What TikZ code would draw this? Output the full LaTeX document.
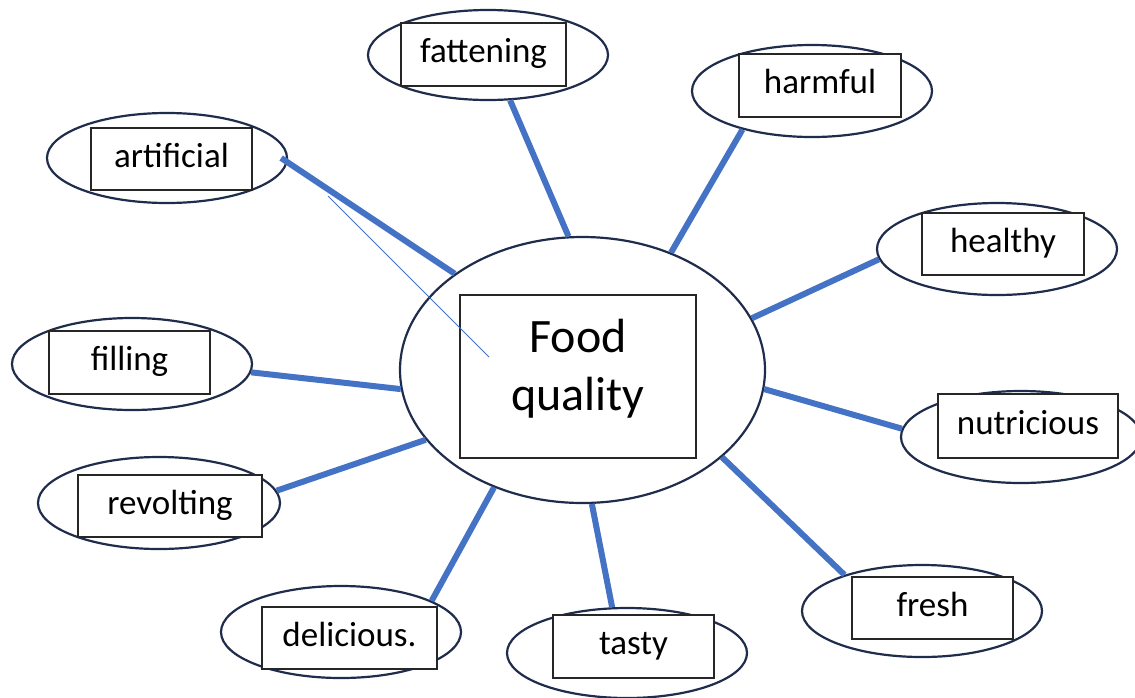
\documentclass[tikz,border=0pt]{standalone}
\usepackage{fontspec}
\setmainfont{Carlito}
\usetikzlibrary{shapes.geometric}
\definecolor{navy}{HTML}{1F2C4C}
\definecolor{linkblue}{HTML}{4472C4}
\definecolor{boxline}{HTML}{262626}
\tikzset{
  oval/.style={ellipse, draw=navy, line width=2.2pt, fill=white, inner sep=0pt},
  wordbox/.style={draw=boxline, line width=1.3pt, fill=white, inner sep=0pt,
    font=\fontsize{35}{42}\selectfont, text height=26pt, text depth=10pt},
  centerbox/.style={draw=boxline, line width=1.3pt, fill=white, inner sep=0pt, align=center,
    font=\fontsize{48}{58}\selectfont},
  link/.style={draw=linkblue, line width=6pt},
  thinlink/.style={draw=linkblue, line width=1pt}
}
\begin{document}
\begin{tikzpicture}[x=1pt,y=-1pt]
\useasboundingbox (0,0) rectangle (1135,697);
% ellipses
\node[oval, minimum width=365pt, minimum height=266pt] (C) at (582.5,370) {};
\node[oval, minimum width=240pt, minimum height=90pt] (eA) at (167,158) {};
\node[oval, minimum width=240pt, minimum height=90pt] (eFa) at (488,55) {};
\node[oval, minimum width=240pt, minimum height=92pt] (eHa) at (812,91) {};
\node[oval, minimum width=240pt, minimum height=92pt] (eHe) at (997,249) {};
\node[oval, minimum width=240pt, minimum height=92pt] (eN) at (1021,437) {};
\node[oval, minimum width=240pt, minimum height=92pt] (eFr) at (922,611) {};
\node[oval, minimum width=240pt, minimum height=90pt] (eT) at (627,653) {};
\node[oval, minimum width=240pt, minimum height=92pt] (eD) at (341,632) {};
\node[oval, minimum width=242pt, minimum height=92pt] (eR) at (159,503) {};
\node[oval, minimum width=240pt, minimum height=92pt] (eFi) at (132,364) {};
% connectors
\draw[link] ([xshift=-7pt]eA.0) -- (C.143.8);
\draw[link] (eFa.-64) -- (C.96);
\draw[link] (eHa.209.6) -- (C.53.6);
\draw[link] (eHe.185) -- (C.17.7);
\draw[link] (eN.176.6) -- (C.-6.5);
\draw[link] (eFr.155.6) -- (C.-32.4);
\draw[link] (eT.108) -- (C.-86);
\draw[link] (eD.19) -- (C.-127.9);
\draw[link] (eR.6.2) -- (C.-156.7);
\draw[link] (eFi.-4.3) -- (C.-174.7);
% boxes
\node[centerbox, minimum width=236pt, minimum height=163pt] (Cb) at (578,376.5) {Food\\quality\rule[-24pt]{0pt}{0pt}};
\node[wordbox, minimum width=161pt, minimum height=62pt] (bA) at (171.5,159) {artificial};
\node[wordbox, minimum width=165pt, minimum height=63pt] (bFa) at (483.5,54.5) {fattening};
\node[wordbox, minimum width=162pt, minimum height=63pt] (bHa) at (820,85.5) {harmful};
\node[wordbox, minimum width=162pt, minimum height=62pt] (bHe) at (1003,244) {healthy};
\node[wordbox, minimum width=180pt, minimum height=64pt] (bN) at (1028,426) {nutricious};
\node[wordbox, minimum width=161pt, minimum height=62pt] (bFr) at (932.5,608) {fresh};
\node[wordbox, minimum width=161pt, minimum height=63pt] (bT) at (633.5,646.5) {tasty};
\node[wordbox, minimum width=175pt, minimum height=62pt] (bD) at (349.5,638) {delicious.};
\node[wordbox, minimum width=184pt, minimum height=62pt] (bR) at (170,506) {revolting};
\node[wordbox, minimum width=161pt, minimum height=63pt] (bFi) at (129.5,362.5) {filling};
% thin stray line
\coordinate (t1) at (328,196);
\coordinate (t2) at (489,357);
\draw[thinlink] (t1) -- (t2);
\end{tikzpicture}
\end{document}
